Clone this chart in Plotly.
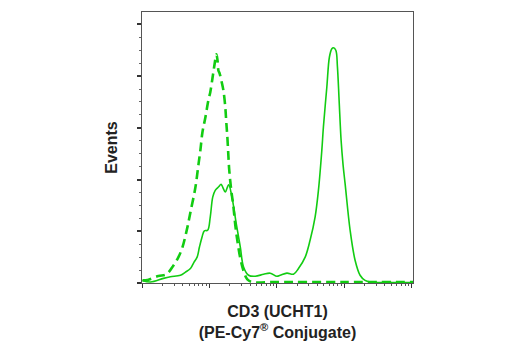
import plotly.graph_objects as go

# Isotype control histogram (dashed)
ctrl_x = [10.2, 12.1, 17.5, 23.1, 29.3, 34.7, 39.8, 47.2, 52.3, 62.0, 68.6, 73.5,
          78.7, 87.1, 96.4, 103, 111, 118, 127, 132, 136, 142, 150, 161, 172, 178,
          185, 191, 197, 211, 226, 242, 259, 287, 318, 365, 433, 1000, 10000, 104700]
ctrl_y = [0.05, 0.06, 0.135, 0.17, 0.34, 0.50, 0.69, 1.08, 1.37, 1.85, 2.28, 2.57,
          2.91, 3.20, 3.53, 3.69, 3.96, 4.19, 4.42, 4.30, 4.11, 4.05, 3.92, 3.73, 3.40, 3.11,
          2.80, 2.47, 2.18, 1.79, 1.50, 1.12, 0.83, 0.48, 0.25, 0.07, 0.02, 0.02, 0.02, 0.02]

# CD3 (UCHT1) PE-Cy7 stained histogram (solid)
cd3_x = [10.1, 13.4, 20.8, 26.4, 37.2, 44.1, 52.3, 58.9, 65.7, 71.0, 77.8, 84.1,
         94.2, 103, 112, 122, 137, 149, 158, 172, 193, 216, 234, 250, 287, 321,
         381, 479, 636, 798, 1002, 1122, 1412, 1767, 2095, 2632, 3120, 3700, 4140,
         4653, 4913, 5520, 6030, 6545, 6907, 7500, 7925, 8395, 8982, 9615, 10300,
         12220, 14480, 17170, 20360, 24150, 40000, 104700]
cd3_y = [0.05, 0.02, 0.09, 0.12, 0.15, 0.21, 0.28, 0.40, 0.50, 0.69, 0.89, 1.01,
         1.02, 1.28, 1.66, 1.79, 1.86, 1.91, 1.85, 1.76, 1.90, 1.66, 1.39, 1.15, 0.70, 0.31,
         0.15, 0.13, 0.17, 0.19, 0.13, 0.15, 0.19, 0.17, 0.28, 0.50, 0.83, 1.28, 1.79,
         2.57, 3.02, 3.79, 4.37, 4.53, 4.55, 4.50, 4.18, 3.53, 2.76, 2.28, 1.92,
         1.02, 0.44, 0.15, 0.05, 0.02, 0.01, 0.01]

x_major = [10, 100, 1000, 10000, 100000]
x_minor = [m * d for d in [10, 100, 1000, 10000] for m in range(2, 10)]

GREEN = "#12cc12"
FONT = "Liberation Sans, Arial"

fig = go.Figure()
fig.add_trace(go.Scatter(x=ctrl_x, y=ctrl_y, mode="lines", line_shape="spline",
                         line=dict(color=GREEN, width=2.6, dash="9px,5px"),
                         showlegend=False))
fig.add_trace(go.Scatter(x=cd3_x, y=cd3_y, mode="lines", line_shape="spline",
                         line=dict(color=GREEN, width=1.6), showlegend=False))

fig.update_layout(
    width=520, height=350,
    margin=dict(l=141.5, r=107, t=11.7, b=67.3),
    paper_bgcolor="white", plot_bgcolor="white",
    font=dict(family=FONT, color="#222222"),
    xaxis=dict(
        type="log", range=[1, 5.02], showgrid=False, zeroline=False,
        showline=True, linecolor="#555555", linewidth=1.2, mirror=True,
        tickmode="array", tickvals=x_major, showticklabels=False,
        ticks="outside", ticklen=4, tickwidth=1, tickcolor="#333333",
        minor=dict(tickmode="array", tickvals=x_minor, ticks="outside",
                   ticklen=2, tickwidth=1, tickcolor="#555555", showgrid=False),
        title=dict(text="<b>CD3 (UCHT1)<br>(PE-Cy7<sup>®</sup> Conjugate)</b>",
                   font=dict(size=16, family=FONT, color="#222222"), standoff=18),
    ),
    yaxis=dict(
        range=[0, 5.24], showgrid=False, zeroline=False,
        showline=True, linecolor="#555555", linewidth=1.2, mirror=True,
        tick0=0, dtick=1, showticklabels=False,
        ticks="outside", ticklen=4, tickwidth=1.5, tickcolor="#333333",
        minor=dict(dtick=0.25, ticks="outside", ticklen=2, tickwidth=1,
                   tickcolor="#666666", showgrid=False),
        title=dict(text="<b>Events</b>", font=dict(size=16, family=FONT, color="#222222"),
                   standoff=15),
    ),
)

fig.write_html("out.html")
